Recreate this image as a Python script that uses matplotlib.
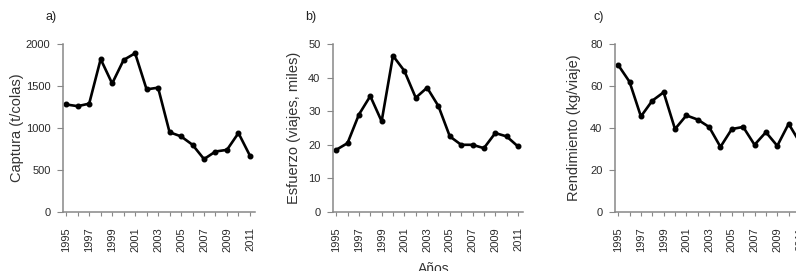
import matplotlib
matplotlib.use("Agg")
import matplotlib.pyplot as plt

plt.rcParams['font.family'] = ['Liberation Sans', 'DejaVu Sans']

years = list(range(1995, 2012))
captura = [1280, 1260, 1290, 1820, 1530, 1810, 1890, 1460, 1480, 950, 900, 800, 630, 720, 740, 940, 670]
esfuerzo = [18.5, 20.5, 29, 34.5, 27, 46.5, 42, 34, 37, 31.5, 22.5, 20, 20, 19, 23.5, 22.5, 19.5]
rendimiento = [70, 62, 45.5, 53, 57, 39.5, 46, 44, 40.5, 31, 39.5, 40.5, 32, 38, 31.5, 42, 33]

panel_labels = ['a)', 'b)', 'c)']
ylabels = ['Captura (t/colas)', 'Esfuerzo (viajes, miles)', 'Rendimiento (kg/viaje)']
yticks_list = [[0, 500, 1000, 1500, 2000], [0, 10, 20, 30, 40, 50], [0, 20, 40, 60, 80]]
xlabel = 'Años'

W, H = 796, 271
fig = plt.figure(figsize=(W / 100, H / 100), dpi=100)

boxes = [(63, 255), (333, 523), (615, 805)]
top, bottom = 44, 212
series = [captura, esfuerzo, rendimiento]
label_x = [45, 305, 593]
ylabel_x = [24, 301, 581]

for i, (l, r) in enumerate(boxes):
    ax = fig.add_axes([l / W, 1 - bottom / H, (r - l) / W, (bottom - top) / H])
    ax.plot(years, series[i], color='black', lw=1.9, marker='o', ms=3.3)
    yt = yticks_list[i]
    ax.set_ylim(yt[0], yt[-1])
    ax.set_yticks(yt)
    ax.set_xlim(1994.72, 2011.44)
    ax.set_xticks(years)
    ax.set_xticklabels([str(y) if (y - 1995) % 2 == 0 else '' for y in years],
                       rotation=90, fontsize=8, color='#2a2a2a')
    ax.tick_params(axis='y', labelsize=8, labelcolor='#2a2a2a', length=4, width=0.8, pad=5, color='#888888')
    ax.tick_params(axis='x', length=3, width=0.8, pad=8, color='#888888')
    for s in ['top', 'right']:
        ax.spines[s].set_visible(False)
    for s in ['left', 'bottom']:
        ax.spines[s].set_color('#888888')
        ax.spines[s].set_linewidth(1.1)
    ax.set_ylabel(ylabels[i], fontsize=10.5, color='#333333')
    ax.yaxis.set_label_coords((ylabel_x[i] - l) / (r - l), 0.5)
    fig.text(label_x[i] / W, 1 - 17 / H, panel_labels[i], fontsize=9,
             color='#222222', ha='left', va='center')

fig.text(434 / W, 1 - 262 / H, xlabel, fontsize=10, color='#333333', ha='center', va='top')

fig.savefig('out.png', dpi=100)
